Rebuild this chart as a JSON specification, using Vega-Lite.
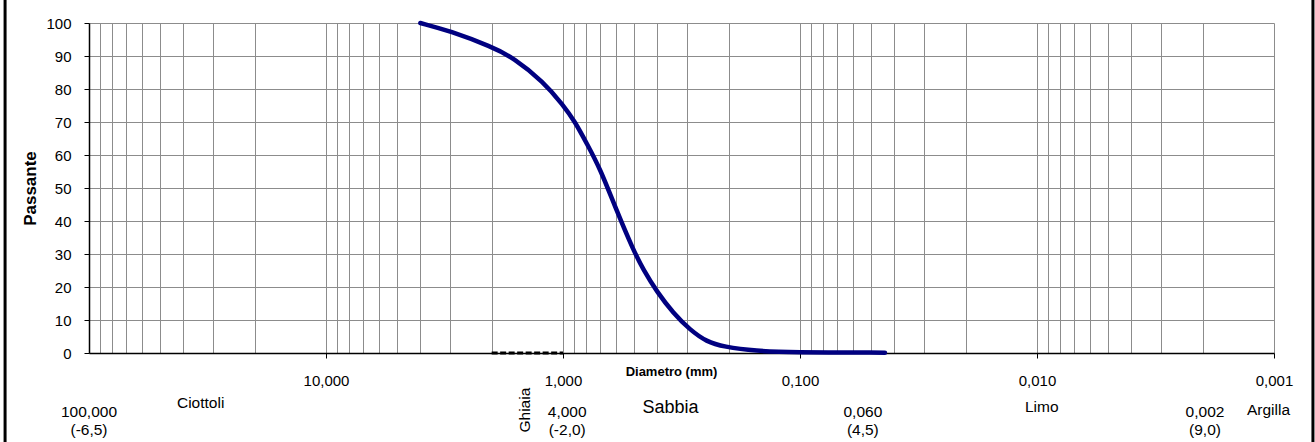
{
  "$schema": "https://vega.github.io/schema/vega-lite/v6.json",
  "width": 1185,
  "height": 330,
  "autosize": {"type": "none"},
  "padding": {"left": 89, "top": 23, "right": 41, "bottom": 89},
  "background": "white",
  "config": {
    "view": {"stroke": null},
    "font": "Liberation Sans",
    "text": {"font": "Liberation Sans", "color": "black"}
  },
  "datasets": {
    "curve": [
      {"d": 4.0, "p": 100},
      {"d": 3.0, "p": 97.6},
      {"d": 2.0, "p": 92.8},
      {"d": 1.62, "p": 89.5},
      {"d": 1.21, "p": 82.2},
      {"d": 1.0, "p": 75.2},
      {"d": 0.89, "p": 70.1},
      {"d": 0.794, "p": 63.5},
      {"d": 0.698, "p": 56},
      {"d": 0.593, "p": 43},
      {"d": 0.505, "p": 31.2},
      {"d": 0.458, "p": 25.2},
      {"d": 0.402, "p": 18.6},
      {"d": 0.342, "p": 12.0},
      {"d": 0.291, "p": 7.0},
      {"d": 0.2475, "p": 3.4},
      {"d": 0.2106, "p": 1.9},
      {"d": 0.1523, "p": 0.6},
      {"d": 0.110, "p": 0.2},
      {"d": 0.0438, "p": 0.1}
    ],
    "gravel": [{"d": 2.0, "d2": 1.0, "p": 0}],
    "notes": [
      {"d": 100, "p": -17.8, "t": "100,000"},
      {"d": 100, "p": -23.3, "t": "(-6,5)"},
      {"d": 33.8, "p": -15.2, "t": "Ciottoli"},
      {"d": 0.96, "p": -17.8, "t": "4,000"},
      {"d": 0.96, "p": -23.3, "t": "(-2,0)"},
      {"d": 0.0543, "p": -17.8, "t": "0,060"},
      {"d": 0.0543, "p": -23.3, "t": "(4,5)"},
      {"d": 0.00955, "p": -16.4, "t": "Limo"},
      {"d": 0.001955, "p": -17.8, "t": "0,002"},
      {"d": 0.001955, "p": -23.3, "t": "(9,0)"},
      {"d": 0.001055, "p": -17.3, "t": "Argilla"}
    ],
    "sand": [{"d": 0.352, "p": -16.7, "t": "Sabbia"}],
    "gravelLabel": [{"d": 1.45, "p": -17.3, "t": "Ghiaia"}],
    "frame": [
      {"d": 226, "p": 107, "p2": -27},
      {"d": 0.000685, "p": 107, "p2": -27}
    ]
  },
  "encoding": {
    "x": {
      "field": "d",
      "type": "quantitative",
      "scale": {"type": "log", "domain": [0.001, 100], "reverse": true, "nice": false},
      "axis": {
        "title": "Diametro (mm)",
        "titleFont": "Liberation Sans",
        "titleFontSize": 13,
        "titleFontWeight": "bold",
        "titleColor": "black",
        "titleX": 582,
        "titleY": 18,
        "titleBaseline": "middle",
        "titleAlign": "center",
        "values": [100, 90, 80, 70, 60, 50, 40, 30, 20, 10, 9, 8, 7, 6, 5, 4, 3, 2, 1, 0.9, 0.8, 0.7, 0.6, 0.5, 0.4, 0.3, 0.2, 0.1, 0.09, 0.08, 0.07, 0.06, 0.05, 0.04, 0.03, 0.02, 0.01, 0.009, 0.008, 0.007, 0.006, 0.005, 0.004, 0.003, 0.002, 0.001],
        "grid": true,
        "gridColor": "#8c8c8c",
        "gridWidth": 1,
        "domainColor": "black",
        "domainWidth": 1.5,
        "tickSize": 5,
        "tickWidth": 1,
        "tickColor": {"condition": {"test": "datum.value < 50 && abs(log(datum.value)/LN10 - round(log(datum.value)/LN10)) < 0.001", "value": "black"}, "value": "transparent"},
        "labelExpr": "datum.value < 50 && abs(log(datum.value)/LN10 - round(log(datum.value)/LN10)) < 0.001 ? replace(format(datum.value, '.3f'), '.', ',') : ''",
        "labelFont": "Liberation Sans",
        "labelFontSize": 15,
        "labelColor": "black",
        "labelPadding": 15,
        "labelOverlap": false,
        "labelFlush": false,
        "labelBound": false
      }
    },
    "y": {
      "field": "p",
      "type": "quantitative",
      "scale": {"domain": [0, 100], "nice": false, "zero": false},
      "axis": {
        "title": "Passante",
        "titleFont": "Liberation Sans",
        "titleFontSize": 17,
        "titleFontWeight": "bold",
        "titleColor": "black",
        "titleAngle": 270,
        "titleX": -59,
        "titleY": 165,
        "titleAlign": "center",
        "titleBaseline": "middle",
        "values": [0, 10, 20, 30, 40, 50, 60, 70, 80, 90, 100],
        "tickCount": 11,
        "grid": true,
        "gridColor": "#8c8c8c",
        "gridWidth": 1,
        "domainColor": "black",
        "domainWidth": 1.5,
        "tickSize": 5,
        "tickColor": "black",
        "labelFont": "Liberation Sans",
        "labelFontSize": 15,
        "labelColor": "black",
        "labelPadding": 13,
        "labelOverlap": false,
        "labelFlush": false,
        "labelBound": false
      }
    }
  },
  "layer": [
    {
      "data": {"name": "gravel"},
      "mark": {"type": "rule", "color": "black", "strokeWidth": 3, "strokeDash": [6, 2.5]},
      "encoding": {
        "x2": {"field": "d2"}
      }
    },
    {
      "data": {"name": "curve"},
      "mark": {"type": "line", "interpolate": "basis", "color": "#000080", "strokeWidth": 4.5, "strokeCap": "round"}
    },
    {
      "data": {"name": "notes"},
      "mark": {"type": "text", "fontSize": 15.5, "align": "center", "baseline": "middle"},
      "encoding": {
        "text": {"field": "t"}
      }
    },
    {
      "data": {"name": "sand"},
      "mark": {"type": "text", "fontSize": 18, "align": "center", "baseline": "middle"},
      "encoding": {
        "text": {"field": "t"}
      }
    },
    {
      "data": {"name": "gravelLabel"},
      "mark": {"type": "text", "fontSize": 15.5, "angle": 270, "align": "center", "baseline": "middle"},
      "encoding": {
        "text": {"field": "t"}
      }
    },
    {
      "data": {"name": "frame"},
      "mark": {"type": "rule", "color": "black", "strokeWidth": 3},
      "encoding": {
        "y2": {"field": "p2"}
      }
    }
  ]
}
